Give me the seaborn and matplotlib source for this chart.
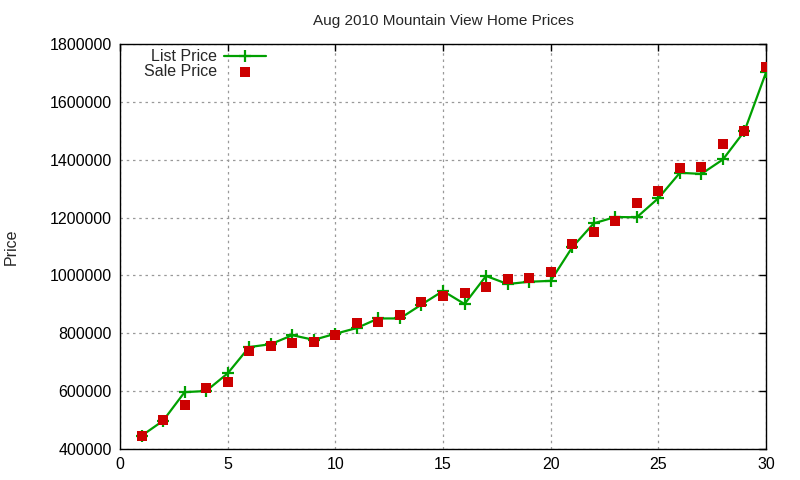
import numpy as np
import pandas as pd
import matplotlib
matplotlib.use("Agg")
import matplotlib.pyplot as plt
import seaborn as sns

# values
days = list(range(1, 31))
list_price = [445000, 497000, 596000, 600000, 661000, 752000, 762000, 793000, 777000, 798000,
              818000, 851000, 851000, 899000, 946000, 901000, 998000, 970000, 978000, 981000,
              1097000, 1180000, 1202000, 1201000, 1267000, 1355000, 1351000, 1401000, 1499000, 1702000]
sale_price = [446000, 498000, 550000, 612000, 632000, 738000, 757000, 767000, 771000, 795000,
              836000, 840000, 863000, 909000, 930000, 940000, 961000, 987000, 992000, 1010000,
              1107000, 1150000, 1188000, 1250000, 1292000, 1370000, 1375000, 1454000, 1499000, 1722000]
x_ticks = [0, 5, 10, 15, 20, 25, 30]
y_ticks = [400000, 600000, 800000, 1000000, 1200000, 1400000, 1600000, 1800000]

df = pd.DataFrame({
    "day": days,
    "List Price": list_price,
    "Sale Price": sale_price
})

sns.set_style("white")
plt.rcParams["font.family"] = ["Liberation Sans", "DejaVu Sans"]

fig = plt.figure(figsize=(8, 4.8), dpi=100)
ax = fig.add_axes([0.15, 0.065, 0.8075, 0.843])

sns.lineplot(
    data=df,
    x="day",
    y="List Price",
    color="#00a000",
    linewidth=1.6,
    marker="+",
    markersize=8,
    markeredgewidth=1.6,
    markeredgecolor="#00a000",
    label="List Price",
    ax=ax,
    zorder=3
)

sns.scatterplot(
    data=df,
    x="day",
    y="Sale Price",
    color="#cc0000",
    marker="s",
    s=55,
    linewidth=0,
    label="Sale Price",
    ax=ax,
    zorder=4
)

ax.set_xlim(0, 30)
ax.set_ylim(400000, 1800000)
ax.set_xticks(x_ticks)
ax.set_yticks(y_ticks)
ax.set_yticklabels([str(v) for v in y_ticks])
ax.tick_params(direction="in", length=5, width=1, top=True, right=True,
               labelsize=11.5, colors="black", pad=6)

ax.grid(True, linestyle=(0, (2, 3)), color="#999999", linewidth=0.9)
for s in ax.spines.values():
    s.set_color("black")
    s.set_linewidth(1)

ax.set_xlabel("")
ax.set_ylabel("Price", fontsize=11.5, labelpad=22)
ax.set_title("Aug 2010 Mountain View Home Prices", fontsize=11, pad=14)

ax.legend(
    loc="upper left",
    bbox_to_anchor=(0.02, 1.015),
    frameon=False,
    markerfirst=False,
    fontsize=11.5,
    handlelength=2.6,
    handletextpad=0.45,
    labelspacing=0.0,
    borderaxespad=0.3
)

plt.savefig("out.png", dpi=100)
plt.close()
